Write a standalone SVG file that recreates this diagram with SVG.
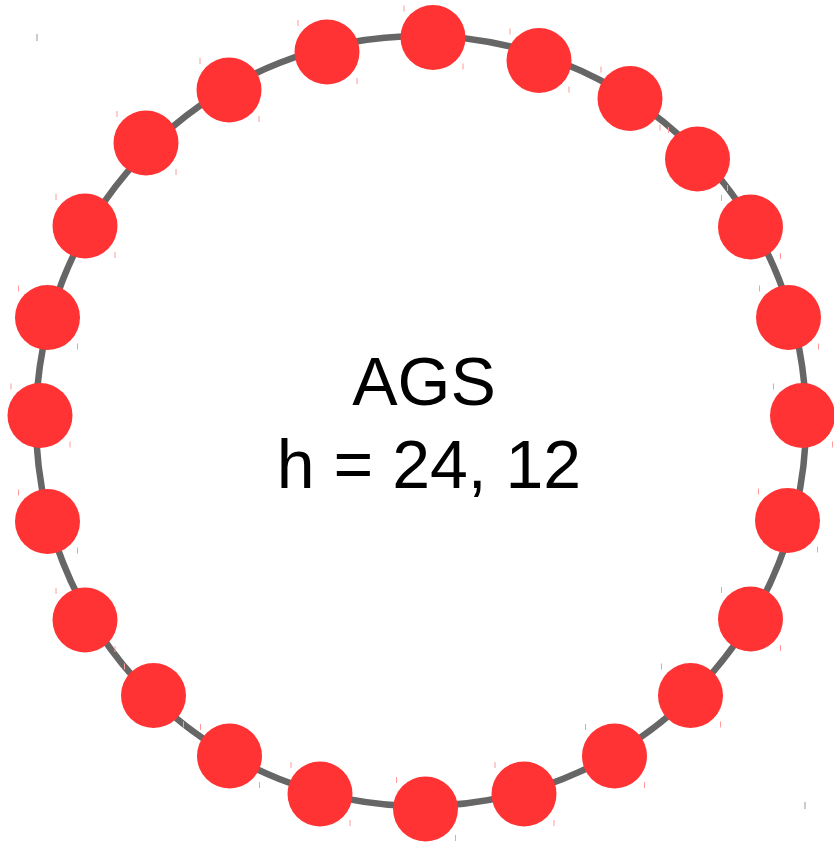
<svg xmlns="http://www.w3.org/2000/svg" width="834" height="845" viewBox="0 0 834 845">
<style>
.ring{fill:none;stroke:#666666;stroke-width:6.5}
.node{fill:#ff3333}
.tick{stroke:#ff9a9a;stroke-width:1}
.gtick{stroke:#aaaaaa;stroke-width:1.2}
.lbl{font-family:"Liberation Sans",Arial,sans-serif;font-size:68px;fill:#000;text-anchor:middle}
</style>
<defs>
<g id="n">
<circle r="32.5" fill="#ff3333"/>
<line class="tick" x1="-29" y1="-32" x2="-29" y2="-26" stroke="#ff9a9a" stroke-width="1"/>
<line class="tick" x1="30" y1="26" x2="30" y2="32" stroke="#ff9a9a" stroke-width="1"/>
</g>
</defs>
<rect width="834" height="845" fill="#ffffff"/>
<g id="connectors">
<circle class="ring" cx="421" cy="421" r="385"/>
</g>
<line class="gtick" x1="37" y1="34" x2="37" y2="41"/>
<line class="gtick" x1="805" y1="802" x2="805" y2="809"/>
<g id="nodes">
<g id="n1" class="node"><use href="#n" x="433" y="37.5"/></g>
<g id="n2" class="node"><use href="#n" x="539" y="60.5"/></g>
<g id="n3" class="node"><use href="#n" x="630" y="98.5"/></g>
<g id="n4" class="node"><use href="#n" x="697.5" y="159"/></g>
<g id="n5" class="node"><use href="#n" x="750.5" y="227"/></g>
<g id="n6" class="node"><use href="#n" x="788.5" y="317.5"/></g>
<g id="n7" class="node"><use href="#n" x="802.5" y="415.5"/></g>
<g id="n8" class="node"><use href="#n" x="787.5" y="520.5"/></g>
<g id="n9" class="node"><use href="#n" x="750.5" y="619"/></g>
<g id="n10" class="node"><use href="#n" x="690.5" y="695.5"/></g>
<g id="n11" class="node"><use href="#n" x="614.5" y="756"/></g>
<g id="n12" class="node"><use href="#n" x="524" y="794"/></g>
<g id="n13" class="node"><use href="#n" x="425.5" y="809"/></g>
<g id="n14" class="node"><use href="#n" x="320" y="794"/></g>
<g id="n15" class="node"><use href="#n" x="229.5" y="756"/></g>
<g id="n16" class="node"><use href="#n" x="153.5" y="695.5"/></g>
<g id="n17" class="node"><use href="#n" x="85" y="620"/></g>
<g id="n18" class="node"><use href="#n" x="47.5" y="521.5"/></g>
<g id="n19" class="node"><use href="#n" x="40" y="415.5"/></g>
<g id="n20" class="node"><use href="#n" x="47.5" y="317.5"/></g>
<g id="n21" class="node"><use href="#n" x="85" y="226"/></g>
<g id="n22" class="node"><use href="#n" x="146" y="143"/></g>
<g id="n23" class="node"><use href="#n" x="229" y="90"/></g>
<g id="n24" class="node"><use href="#n" x="327" y="52"/></g>
</g>
<g id="label">
<text class="lbl" x="424" y="405">AGS</text>
<text class="lbl" x="429" y="488">h = 24, 12</text>
</g>
</svg>
